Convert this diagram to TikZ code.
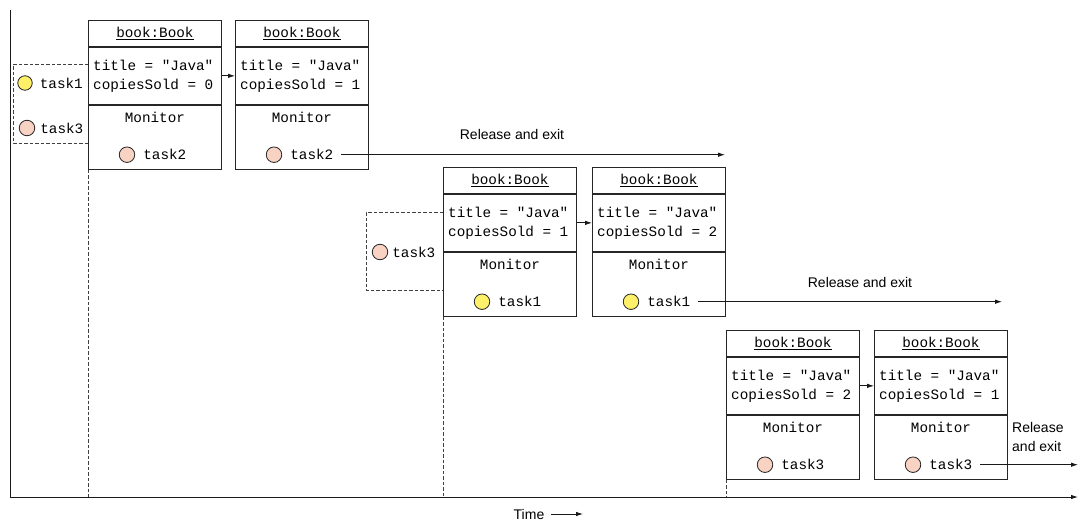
\documentclass[tikz,border=0pt]{standalone}
\usepackage{fontspec}
\setmainfont{Liberation Sans}
\setmonofont{Liberation Mono}
\usetikzlibrary{arrows.meta,calc}
\definecolor{yel}{HTML}{FFF06A}
\definecolor{pnk}{HTML}{F8D3C3}
\tikzset{
 sec/.style={draw=black!85, line width=0.9pt, minimum width=133pt, inner sep=0pt, anchor=north west},
 mono/.style={font=\fontsize{14.3}{19}\selectfont\ttfamily, inner sep=0pt},
 tk/.style={circle, draw=black!85, line width=0.8pt, minimum size=15.5pt, inner sep=0pt},
 lbl/.style={font=\fontsize{14}{19}\selectfont, inner sep=0pt},
 arr/.style={-{Latex[length=7pt,width=4.5pt]}, line width=0.8pt, draw=black!90},
 dsh/.style={dash pattern=on 3.5pt off 2pt, draw=black!75, line width=0.8pt}
}
\newcommand\bookbox[6]{%
 \node[sec, minimum height=26pt] (#1h) at (#2,#3) {};
 \node[mono] at (#1h.center) {\underline{book:Book}};
 \node[sec, minimum height=57pt] (#1a) at (#1h.south west) {};
 \node[mono, anchor=west, align=left] (#1x) at ([xshift=5pt]#1a.west) {title = "Java"\\copiesSold = #4};
 \node[sec, minimum height=64pt] (#1m) at (#1a.south west) {};
 \node[mono] (#1l) at ([yshift=-13pt]#1m.north) {Monitor};
 \node[tk, fill=#5] (#1c) at ([xshift=39pt,yshift=15pt]#1m.south west) {};
 \node[mono, anchor=west] (#1t) at ([xshift=8pt]#1c.east) {#6};
}
\begin{document}
\begin{tikzpicture}[x=1pt,y=-1pt]
\useasboundingbox (0,0) rectangle (1079,522);
% axes
\coordinate (ytop) at (10,10);
\coordinate (o) at (10,497);
\coordinate (xend) at (1078,497);
\draw[line width=0.9pt, draw=black!90] (ytop) -- (o);
\draw[arr, line width=0.9pt] (o) -- (xend);
\node[lbl] (time) at (529,514) {Time};
\coordinate (tarr) at (583,514);
\draw[arr] ([xshift=6pt]time.east) -- (tarr);

% stage 1
\bookbox{b1}{88}{20}{0}{pnk}{task2}
\bookbox{b2}{235}{20}{1}{pnk}{task2}
\draw[arr] (b1a.east) -- (b2a.west);
\draw[dsh] (88,64) -| (13,143) -- (88,143);
\node[tk, minimum size=14.5pt, fill=yel] (w1c) at (25,83) {};
\node[mono, anchor=west] (w1t) at ([xshift=7pt]w1c.east) {task1};
\node[tk, fill=pnk] (w3c) at (27,128) {};
\node[mono, anchor=west] (w3t) at ([xshift=5pt]w3c.east) {task3};
\coordinate (r1) at (725,152);
\draw[arr] ($(b2t.east |- b2c.center)+(8pt,0)$) -- (r1 |- b2c.center);
\node[lbl] (rl1) at (512,134) {Release and exit};
\draw[dsh] (b1m.south west) -- (b1m.south west |- o);

% stage 2
\bookbox{b3}{443}{167}{1}{yel}{task1}
\bookbox{b4}{592}{167}{2}{yel}{task1}
\draw[arr] (b3a.east) -- (b4a.west);
\draw[dsh] (443,212) -| (366,290) -- (443,290);
\node[tk, fill=pnk] (w4c) at (380,252) {};
\node[mono, anchor=west] (w4t) at ([xshift=4pt]w4c.east) {task3};
\coordinate (r2) at (1002,298);
\draw[arr] ($(b4t.east |- b4c.center)+(8pt,0)$) -- (r2 |- b4c.center);
\node[lbl] (rl2) at (860,282) {Release and exit};
\draw[dsh] (b3m.south west) -- (b3m.south west |- o);

% stage 3
\bookbox{b5}{726}{330}{2}{pnk}{task3}
\bookbox{b6}{874}{330}{1}{pnk}{task3}
\draw[arr] (b5a.east) -- (b6a.west);
\coordinate (r3) at (1078,460);
\draw[arr] ($(b6t.east |- b6c.center)+(8pt,0)$) -- (r3 |- b6c.center);
\node[lbl, anchor=west, align=left] (rl3) at (1012,437) {Release\\and exit};
\draw[dsh] (b5m.south west) -- (b5m.south west |- o);
\end{tikzpicture}
\end{document}
